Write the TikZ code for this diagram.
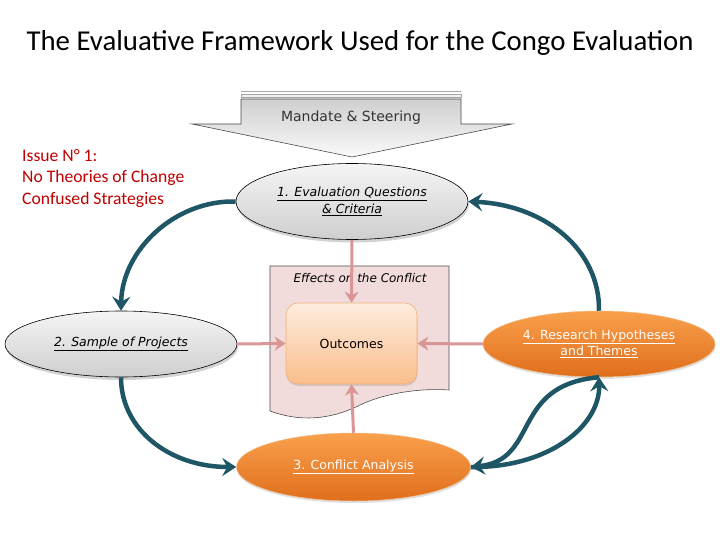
\documentclass[tikz,border=0pt]{standalone}
\usepackage{fontspec}
\setmainfont{DejaVu Sans}
\newfontfamily\calib{Carlito}
\usetikzlibrary{shapes.geometric,shadows,arrows.meta}
\definecolor{tealc}{RGB}{31,86,102}
\definecolor{pinkc}{RGB}{217,150,148}
\definecolor{boxfill}{RGB}{242,220,219}
\definecolor{issuered}{RGB}{192,0,0}
\definecolor{orTop}{RGB}{249,160,76}
\definecolor{orBot}{RGB}{224,110,28}
\definecolor{orLine}{RGB}{238,190,140}
\definecolor{peachTop}{RGB}{253,236,222}
\definecolor{peachBot}{RGB}{250,190,140}
\definecolor{peachLine}{RGB}{240,176,120}
\begin{document}
\begin{tikzpicture}[x=1pt,y=-1pt,
  grayell/.style={ellipse,draw=black,line width=0.6pt,top color=gray!8,bottom color=gray!38,
    inner sep=0pt,drop shadow={shadow xshift=1pt,shadow yshift=-3pt,opacity=0.35},
    font=\fontsize{12.5}{16.5}\selectfont\itshape,align=center},
  orell/.style={ellipse,draw=orLine,line width=0.5pt,top color=orTop,bottom color=orBot,
    inner sep=0pt,drop shadow={shadow xshift=0.5pt,shadow yshift=-2pt,opacity=0.25},
    text=white,font=\fontsize{12.5}{16.5}\selectfont,align=center},
  outbox/.style={rectangle,rounded corners=12pt,draw=peachLine,line width=0.6pt,
    top color=peachTop,bottom color=peachBot,minimum width=131pt,minimum height=81pt,
    drop shadow={shadow xshift=0.5pt,shadow yshift=-2pt,opacity=0.25},
    font=\fontsize{12.5}{15}\selectfont},
  tealarrow/.style={draw=tealc,line width=4.5pt,-{Stealth[length=14pt,width=18pt,inset=5pt]}},
  pinkarrow/.style={draw=pinkc,line width=3pt,-{Stealth[length=11pt,width=14pt,inset=3.5pt]}}
]
\useasboundingbox (0,0) rectangle (720,540);
\fill[white] (0,0) rectangle (720,540);

% title
\node (title) at (360,43) {\calib\fontsize{28.8}{32}\selectfont The Evaluative Framework Used for the Congo Evaluation};

% mandate arrow
\draw[gray!70,line width=0.6pt] (241,91) -- (461,91);
\draw[gray!70,line width=0.6pt,fill=gray!12] (241,94) rectangle (461,97);
\draw[gray!60!black,line width=0.6pt,top color=gray!38,bottom color=gray!4]
  (241,99) -- (461,99) -- (461,124) -- (512,124) -- (352,157) -- (192,124) -- (241,124) -- cycle;
\node[text=black!80] (mandate) at (351,118) {\fontsize{14}{16}\selectfont Mandate \& Steering};

% issue text
\node[anchor=north west,align=left,inner sep=0pt,text=issuered,
  font=\calib\fontsize{17.6}{21.5}\selectfont] (issue) at (22,149)
  {Issue N° 1:\\No Theories of Change\\Confused Strategies};

% effects box
\draw[gray!60!black,line width=0.6pt,fill=boxfill]
  (270,266) -- (449,266) -- (449,390) .. controls (420,388) and (385,393) .. (360,405)
  .. controls (330,420) and (300,422) .. (270,411) -- cycle;
\node[font=\fontsize{12}{14}\selectfont\itshape] (effects) at (360,278) {Effects on the Conflict};

% nodes
\node[outbox] (out) at (351.5,343.5) {Outcomes};
\node[grayell,minimum width=232pt,minimum height=76pt] (e1) at (352,201.5)
  {\underline{1. Evaluation Questions}\\\underline{\& Criteria}};
\node[grayell,minimum width=232pt,minimum height=66pt] (e2) at (121,344)
  {\underline{2. Sample of Projects}};
\node[orell,minimum width=234pt,minimum height=68pt] (e3) at (353.5,467)
  {\underline{3. Conflict Analysis}};
\node[orell,minimum width=232pt,minimum height=66pt] (e4) at (599,344)
  {\underline{4. Research Hypotheses}\\\underline{and Themes}};

% pink arrows
\draw[pinkarrow] (e1.south) -- (out.north);
\draw[pinkarrow] (e2.east) -- (out.west);
\draw[pinkarrow] (e4.west) -- (out.east);
\draw[pinkarrow] (e3.north) -- (out.south);

% teal arrows
\draw[tealarrow] (e1.west) .. controls (175,200) and (122,250) .. (e2.north);
\draw[tealarrow] (e2.south) .. controls (121,430) and (170,467) .. (e3.west);
\draw[tealarrow] (e4.north) .. controls (600,250) and (545,205) .. (e1.east);
\draw[tealarrow] (e4.south) .. controls (510,385) and (540,460) .. (e3.east);
\draw[tealarrow] (e3.east) .. controls (550,468) and (600,425) .. (e4.south);
\end{tikzpicture}
\end{document}
